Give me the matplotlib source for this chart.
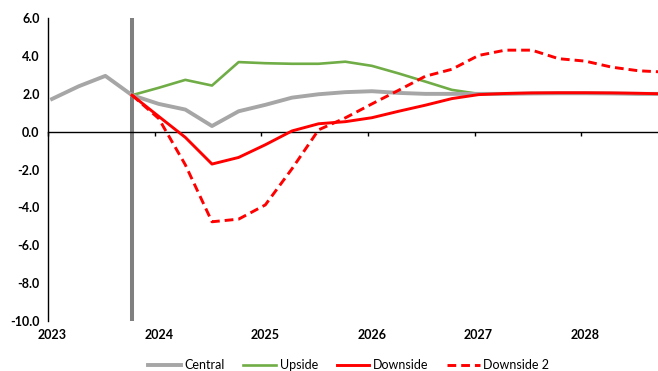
import numpy as np
import pandas as pd
import matplotlib
matplotlib.use('Agg')
import matplotlib.pyplot as plt
from matplotlib.lines import Line2D

plt.rcParams['font.family'] = ['Lato', 'DejaVu Sans']

quarters = pd.period_range('2023Q1', '2028Q4', freq='Q')
years = [2023, 2024, 2025, 2026, 2027, 2028]

central = [1.73, 2.40, 2.95, 1.93, 1.47, 1.17, 0.30, 1.08, 1.42, 1.80, 1.98, 2.09,
           2.14, 2.05, 2.00, 2.00, 2.00, 2.00, 2.02, 2.03, 2.03, 2.02, 2.00, 2.00]
upside = [np.nan, np.nan, np.nan, 1.93, 2.32, 2.74, 2.44, 3.68, 3.62, 3.59, 3.59, 3.70,
          3.48, 3.08, 2.65, 2.21, 2.00, 2.00, 2.02, 2.03, 2.03, 2.02, 2.00, 2.00]
downside = [np.nan, np.nan, np.nan, 1.93, 0.81, -0.30, -1.71, -1.36, -0.69, 0.04, 0.42, 0.53,
            0.74, 1.08, 1.40, 1.75, 1.96, 2.02, 2.05, 2.06, 2.06, 2.05, 2.03, 2.00]
downside2 = [np.nan, np.nan, np.nan, 1.93, 0.70, -1.75, -4.76, -4.62, -3.87, -1.96, 0.10, 0.73,
             1.47, 2.19, 2.93, 3.30, 4.03, 4.31, 4.31, 3.86, 3.73, 3.41, 3.22, 3.15]

# quarterly points, year-boundary ticks sit a little left of each Q1 point
x = np.array([q.year + (q.quarter - 1) / 4 for q in quarters]) + 0.0375
split = x[3]
dash = (0, (3, 1.7))

fig = plt.figure(figsize=(6.58, 3.71), dpi=100)
ax = fig.add_axes([0.073, 0.135, 0.927, 0.816])

ax.axvline(split, color='#808080', lw=2.9, zorder=1)
ax.plot(x, central, color='#A6A6A6', lw=2.8, zorder=3)
ax.plot(x, upside, color='#70AD47', lw=1.9, zorder=2)
ax.plot(x, downside, color='#FF0000', lw=2.1, zorder=4)
ax.plot(x, downside2, color='#FF0000', lw=2.1, ls=dash, zorder=4)

ax.set_ylim(-10, 6)
ax.set_xlim(2023, 2028.72)
ax.set_yticks(np.arange(-10, 7, 2))
ax.set_yticklabels(['%.1f' % v for v in np.arange(-10, 7, 2)], fontweight='bold', fontsize=9)
ax.tick_params(axis='y', length=0, pad=6)

ax.spines['top'].set_visible(False)
ax.spines['right'].set_visible(False)
ax.spines['left'].set_linewidth(1.0)
ax.spines['bottom'].set_position(('data', 0))
ax.spines['bottom'].set_linewidth(1.0)
ax.set_xticks(years)
ax.set_xticklabels([])
ax.tick_params(axis='x', direction='out', length=3, width=1)

sec = ax.secondary_xaxis(0)
sec.set_xticks(np.array(years) + 0.0375)
sec.set_xticklabels([str(y) for y in years], fontweight='bold', fontsize=9)
sec.tick_params(length=0, pad=6)
sec.spines['bottom'].set_visible(False)

handles = [Line2D([], [], color='#A6A6A6', lw=2.8),
           Line2D([], [], color='#70AD47', lw=1.9),
           Line2D([], [], color='#FF0000', lw=2.1),
           Line2D([], [], color='#FF0000', lw=2.1, ls=dash)]
fig.legend(handles, ['Central', 'Upside', 'Downside', 'Downside 2'],
           loc='center', bbox_to_anchor=(0.53, 0.015), ncol=4, frameon=False,
           fontsize=9, handlelength=2.6, handletextpad=0.3, columnspacing=1.5)

fig.savefig('out.png', dpi=100)
